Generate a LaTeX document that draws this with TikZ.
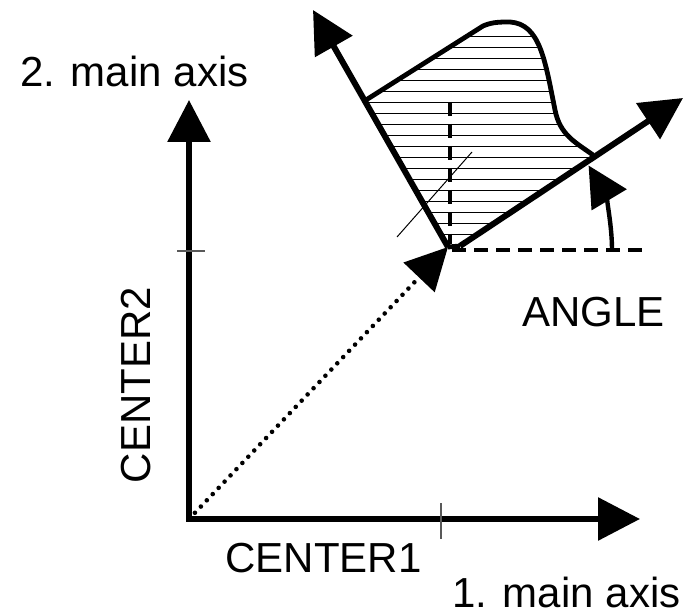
\documentclass[tikz,border=0pt]{standalone}
\usepackage{fontspec}
\setmainfont{Liberation Sans}
\usetikzlibrary{arrows.meta}

\begin{document}
\begin{tikzpicture}[x=0.5pt,y=-0.5pt,every node/.style={font=\fontsize{21}{25}\selectfont,inner sep=0pt},
    bigtip/.style={-{Triangle[length=21pt,width=21pt]}},
    axis/.style={line width=3pt,bigtip},
    tick/.style={line width=0.6pt,black!65},
    dashline/.style={line width=2.4pt,dash pattern=on 7pt off 4pt}]
                \useasboundingbox (0,0) rectangle (684,614);
                \coordinate (O) at (189,519);
                \coordinate (X) at (640,519);
                \coordinate (Y) at (189,100);
                \coordinate (C) at (448,247);
                \coordinate (C1) at (460,246);
                \coordinate (U) at (683,98);
                \coordinate (V) at (313,10);
                \coordinate (P1) at (366,100);
                \coordinate (P2) at (593,155);
                \coordinate (A0) at (612,250);

                \begin{scope}
                    \clip (P1) -- (C) -- (C1) -- (P2) .. controls (575,142) and (560,135) .. (555,110)
                        .. controls (545,60) and (540,24) .. (510,22) .. controls (500,22) and (492,22) .. (483,26) -- cycle;
                    \foreach \y in {37,48,...,246}
                        \draw[line width=0.5pt] (300,\y) -- (700,\y);
                \end{scope}
                \draw[line width=2.4pt,line join=round] (P2) .. controls (575,142) and (560,135) .. (555,110)
                    .. controls (545,60) and (540,24) .. (510,22) .. controls (500,22) and (492,22) .. (483,26) -- (P1);
                \draw[line width=2.4pt,line join=round] (C) -- (C1);

                \draw[axis] (C) -- (V);
                \draw[axis] (C1) -- (U);
                \draw[axis,{Triangle[length=21pt,width=21pt]}-{Triangle[length=21pt,width=21pt]}] (Y) -- (O) -- (X);

                \draw[tick] (441,503) -- (441,539);
                \draw[tick] (177,251) -- (205,251);

                \draw[dashline] (450,102) -- (450,244);
                \draw[dashline] (452,250) -- (642,250);
                \draw[line width=0.5pt] (397,237) -- (472,152);

                \draw[line width=2.3pt,line cap=round,dash pattern=on 0pt off 4.3pt,bigtip] (O) -- (C);
                \draw[line width=2.2pt,-{Triangle[length=20pt,width=20pt]}] (A0) arc[start angle=0,end angle=-31,radius=164];

                \node[anchor=base west] (lab2) at (20,87) {2. main axis};
                \node[anchor=base west] (lab1) at (452,607) {1. main axis};
                \node[anchor=base west] (c1) at (225,572) {CENTER1};
                \node[rotate=90] (c2) at (136,385) {CENTER2};
                \node[anchor=base west] (ang) at (522,326) {ANGLE};
            \end{tikzpicture}
\end{document}
